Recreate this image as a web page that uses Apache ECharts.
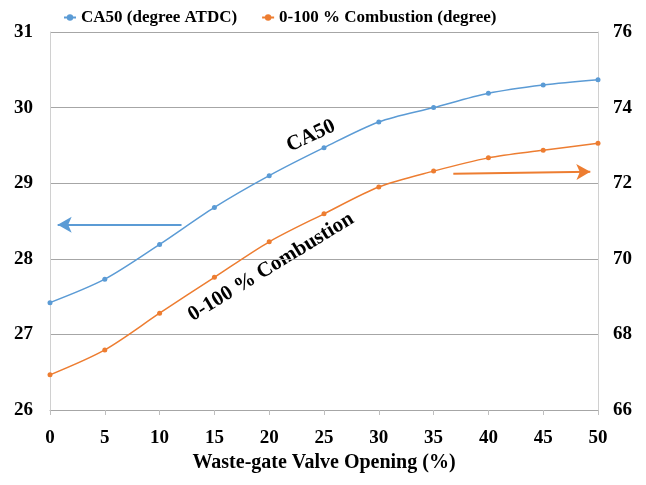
<!DOCTYPE html>
<html>
<head>
<meta charset="utf-8">
<script src="https://cdn.jsdelivr.net/npm/echarts@6/dist/echarts.min.js"></script>
<style>
html,body{margin:0;padding:0;background:#fff;}
#main{width:646px;height:485px;}
</style>
</head>
<body>
<div id="main"></div>
<script>
var openings = [0, 5, 10, 15, 20, 25, 30, 35, 40, 45, 50];
var ca50 = [27.42, 27.73, 28.19, 28.68, 29.1, 29.47, 29.81, 30.0, 30.19, 30.3, 30.37];
var combustion = [66.93, 67.59, 68.56, 69.51, 70.45, 71.19, 71.9, 72.32, 72.67, 72.87, 73.06];

var blue = '#5B9BD5', orange = '#ED7D31';
var font = '"Liberation Serif", "Times New Roman", serif';

var myChart = echarts.init(document.getElementById('main'));

function pairs(arr) {
	var out = [];
	for (var i = 0; i < openings.length; i++) out.push([openings[i], arr[i]]);
	return out;
}

var option = {
	animation: false,
	backgroundColor: '#fff',
	textStyle: { fontFamily: font },
	grid: { left: 50, right: 48, top: 32, bottom: 75 },
	legend: {
		top: 4,
		left: 58,
		itemWidth: 12,
		itemHeight: 8,
		itemGap: 24,
		textStyle: { fontFamily: font, fontWeight: 'bold', fontSize: 17, color: '#000' },
		data: ['CA50 (degree ATDC)', '0-100 % Combustion (degree)']
	},
	xAxis: {
		type: 'value',
		min: 0, max: 50, interval: 5,
		name: 'Waste-gate Valve Opening (%)',
		nameLocation: 'middle',
		nameGap: 40,
		nameTextStyle: { fontFamily: font, fontWeight: 'bold', fontSize: 20, color: '#000' },
		axisLine: { lineStyle: { color: '#a6a6a6' } },
		axisTick: { show: true, length: 5, lineStyle: { color: '#bfbfbf' } },
		axisLabel: { margin: 19, fontFamily: font, fontWeight: 'bold', fontSize: 19, color: '#000' },
		splitLine: { show: false }
	},
	yAxis: [{
		type: 'value',
		min: 26, max: 31, interval: 1,
		axisLine: { show: true, lineStyle: { color: '#d0d0d0' } },
		axisTick: { show: false },
		axisLabel: { margin: 17, fontFamily: font, fontWeight: 'bold', fontSize: 19, color: '#000' },
		splitLine: { lineStyle: { color: '#a6a6a6' } }
	}, {
		type: 'value',
		min: 66, max: 76, interval: 2,
		position: 'right',
		axisLine: { show: true, lineStyle: { color: '#d0d0d0' } },
		axisTick: { show: false },
		axisLabel: { margin: 15, fontFamily: font, fontWeight: 'bold', fontSize: 19, color: '#000' },
		splitLine: { show: false }
	}],
	series: [{
		name: 'CA50 (degree ATDC)',
		type: 'line',
		yAxisIndex: 0,
		smooth: 0.3,
		symbol: 'circle',
		symbolSize: 5,
		color: blue,
		lineStyle: { width: 1.5 },
		data: pairs(ca50),
		markLine: {
			silent: true,
			symbol: ['arrow', 'none'],
			symbolSize: [12, 14],
			label: { show: false },
			lineStyle: { color: blue, width: 2, type: 'solid' },
			data: [[{ coord: [0.7, 28.45] }, { coord: [12, 28.45] }]]
		}
	}, {
		name: '0-100 % Combustion (degree)',
		type: 'line',
		yAxisIndex: 1,
		smooth: 0.3,
		symbol: 'circle',
		symbolSize: 5,
		color: orange,
		lineStyle: { width: 1.5 },
		data: pairs(combustion),
		markLine: {
			silent: true,
			symbol: ['none', 'arrow'],
			symbolSize: [12, 14],
			label: { show: false },
			lineStyle: { color: orange, width: 2, type: 'solid' },
			data: [[{ coord: [36.8, 72.25] }, { coord: [49.3, 72.3] }]]
		}
	}],
	graphic: [{
		type: 'text',
		x: 311, y: 136,
		rotation: 25 * Math.PI / 180,
		style: {
			text: 'CA50',
			fontFamily: font, fontWeight: 'bold', fontSize: 21, fill: '#000',
			align: 'center', verticalAlign: 'middle'
		}
	}, {
		type: 'text',
		x: 271, y: 267,
		rotation: 31.5 * Math.PI / 180,
		style: {
			text: '0-100 % Combustion',
			fontFamily: font, fontWeight: 'bold', fontSize: 21, fill: '#000',
			align: 'center', verticalAlign: 'middle'
		}
	}]
};

myChart.setOption(option);
</script>
</body>
</html>
